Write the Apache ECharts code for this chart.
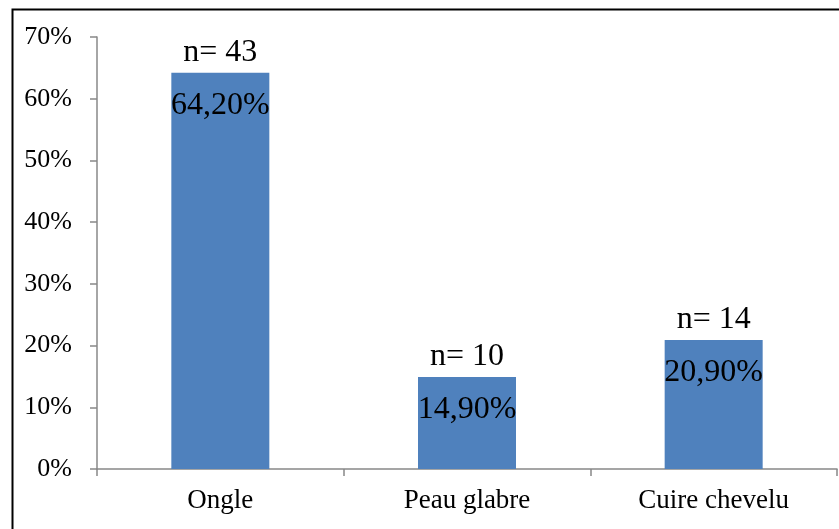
<!DOCTYPE html>
<html>
<head>
<meta charset="utf-8">
<script src="https://cdn.jsdelivr.net/npm/echarts@6/dist/echarts.min.js"></script>
<style>html,body{margin:0;padding:0;background:#fff}#c{width:839px;height:529px}</style>
</head>
<body>
<div id="c"></div>
<script>
const categories = ['Ongle', 'Peau glabre', 'Cuire chevelu'];
const percentValues = [64.2, 14.9, 20.9];
const percentLabels = ['64,20%', '14,90%', '20,90%'];
const countLabels = ['n= 43', 'n= 10', 'n= 14'];
const yTicks = [0, 10, 20, 30, 40, 50, 60, 70];

const FONT = '"Liberation Serif", "Times New Roman", serif';
const chart = echarts.init(document.getElementById('c'));
chart.setOption({
  animation: false,
  grid: { left: 97, right: 2, top: 37, bottom: 60 },
  graphic: [{
    type: 'rect', left: 10, top: 7, z: 100,
    shape: { x: 0, y: 0, width: 900, height: 600 },
    style: { fill: 'none', stroke: '#000', lineWidth: 2 }
  }],
  xAxis: {
    type: 'category', data: categories,
    axisLine: { lineStyle: { color: '#888', width: 1.5 } },
    axisTick: { show: true, length: 7, lineStyle: { color: '#888', width: 1.5 } },
    axisLabel: { color: '#000', fontFamily: FONT, fontSize: 27, margin: 18 }
  },
  yAxis: {
    type: 'value', min: yTicks[0], max: yTicks[yTicks.length - 1], interval: 10,
    splitLine: { show: false },
    axisLine: { show: true, lineStyle: { color: '#888', width: 1.5 } },
    axisTick: { show: true, length: 7, lineStyle: { color: '#888', width: 1.5 } },
    axisLabel: { color: '#000', fontFamily: FONT, fontSize: 26, margin: 25,
      formatter: v => v + '%' }
  },
  series: [{
    type: 'bar', data: percentValues, barWidth: 98,
    itemStyle: { color: '#4F81BD' },
    label: { show: true, position: 'insideTop', distance: 17, color: '#000',
      fontFamily: FONT, fontSize: 32,
      formatter: p => percentLabels[p.dataIndex] }
  }, {
    type: 'bar', data: percentValues, barWidth: 98, barGap: '-100%',
    itemStyle: { color: 'rgba(0,0,0,0)' }, silent: true,
    label: { show: true, position: 'top', distance: 4, color: '#000',
      fontFamily: FONT, fontSize: 32,
      formatter: p => countLabels[p.dataIndex] }
  }]
});
</script>
</body>
</html>
